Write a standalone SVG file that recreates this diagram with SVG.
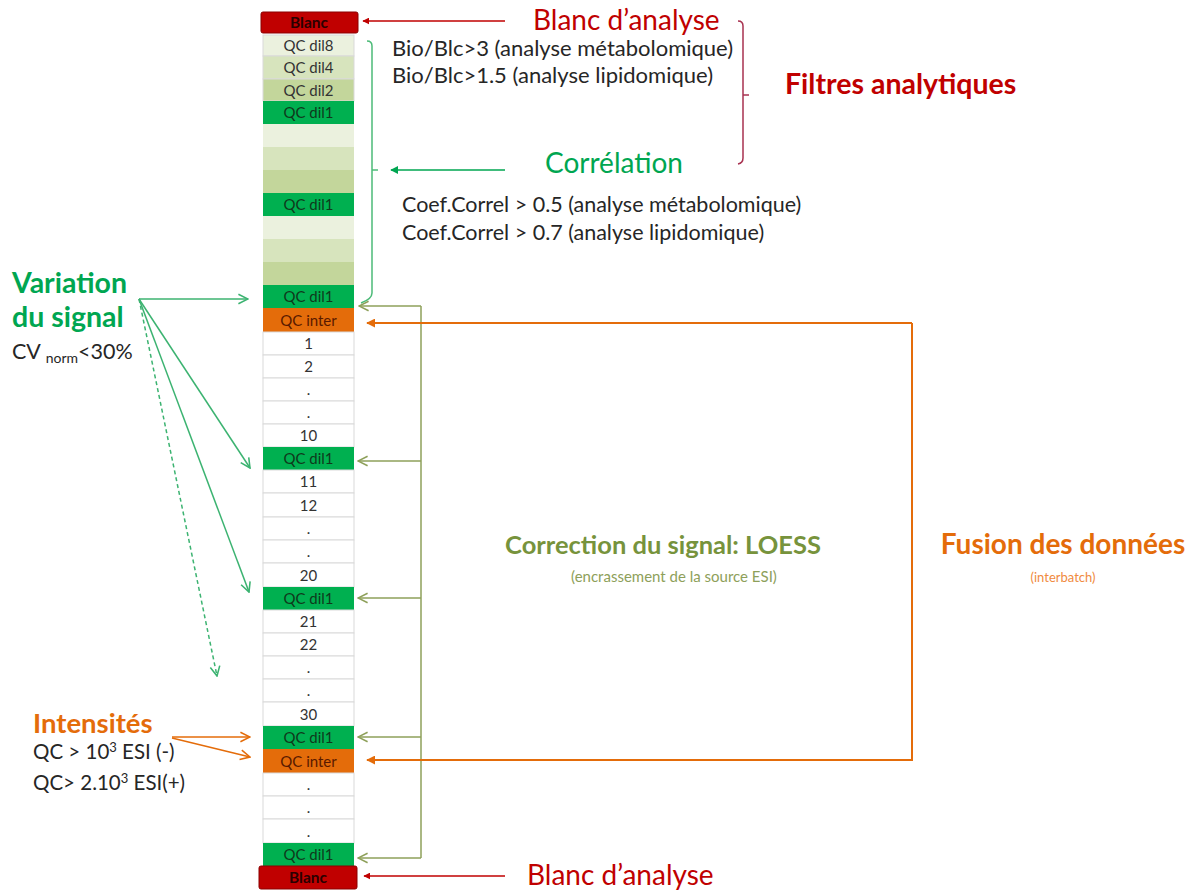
<svg xmlns="http://www.w3.org/2000/svg" width="1194" height="890" viewBox="0 0 1194 890">
<style>
text{font-family:Lato,"Open Sans","Liberation Sans",sans-serif}
.cell{stroke:#d9d9d9;stroke-width:1}
.w{fill:#ffffff}
.l8{fill:#ebf1de}
.l4{fill:#d7e4bd}
.l2{fill:#c3d69b}
.g{fill:#00b050}
.o{fill:#e46c0a}
.blanc{fill:#c00000;stroke:#8b0000;stroke-width:1}
.ct{font-size:15px;fill:#333;text-anchor:middle}
.cg{font-size:15px;fill:#0f3a1c;text-anchor:middle}
.co{font-size:15px;fill:#5a1a00;text-anchor:middle}
.cb{font-size:15.5px;font-weight:bold;fill:#2a0000;text-anchor:middle}
.red{fill:#c00000}
.grn{fill:#00a651}
.olv{fill:#77933c}
.org{fill:#e46c0a}
.blk{fill:#262626}
.lred{stroke:#c00000;stroke-width:1.5;fill:none}
.lgrn{stroke:#3cb371;stroke-width:1.5;fill:none}
.lolv{stroke:#8ea05a;stroke-width:1.5;fill:none}
.lorg{stroke:#e46c0a;stroke-width:2;fill:none}
.lbr{stroke:#4cbb78;stroke-width:1.5;fill:none}
.lrb{stroke:#a83250;stroke-width:1.5;fill:none}
</style>
<defs>
<marker id="mRed" viewBox="0 0 10 10" refX="9" refY="5" markerWidth="7" markerHeight="7" orient="auto" markerUnits="userSpaceOnUse"><path d="M0,0 L10,5 L0,10 z" fill="#c00000"/></marker>
<marker id="mOrg" viewBox="0 0 10 10" refX="9" refY="5" markerWidth="9" markerHeight="9" orient="auto" markerUnits="userSpaceOnUse"><path d="M0,0 L10,5 L0,10 z" fill="#e46c0a"/></marker>
<marker id="mGrnF" viewBox="0 0 10 10" refX="9" refY="5" markerWidth="8" markerHeight="8" orient="auto" markerUnits="userSpaceOnUse"><path d="M0,0 L10,5 L0,10 z" fill="#00a651"/></marker>
<marker id="mGrnO" viewBox="0 0 10 10" refX="9" refY="5" markerWidth="12" markerHeight="12" orient="auto" markerUnits="userSpaceOnUse"><path d="M1,1 L9,5 L1,9" fill="none" stroke="#3cb371" stroke-width="1.3"/></marker>
<marker id="mOlvO" viewBox="0 0 10 10" refX="9" refY="5" markerWidth="12" markerHeight="12" orient="auto" markerUnits="userSpaceOnUse"><path d="M1,1 L9,5 L1,9" fill="none" stroke="#8ea05a" stroke-width="1.3"/></marker>
<marker id="mOrgO" viewBox="0 0 10 10" refX="9" refY="5" markerWidth="12" markerHeight="12" orient="auto" markerUnits="userSpaceOnUse"><path d="M1,1 L9,5 L1,9" fill="none" stroke="#e46c0a" stroke-width="1.3"/></marker>
</defs>
<rect width="1194" height="890" fill="#ffffff"/>

<g id="column">
<g id="blanc-top"><rect class="blanc" x="261" y="12" width="97" height="21" rx="2"/><text class="cb" x="309" y="28">Blanc</text></g>
<g id="r0"><rect class="cell l8" x="263" y="35" width="91" height="21"/><text class="ct" x="308.5" y="51">QC dil8</text></g>
<g id="r1"><rect class="cell l4" x="263" y="56" width="91" height="23"/><text class="ct" x="308.5" y="73">QC dil4</text></g>
<g id="r2"><rect class="cell l2" x="263" y="79" width="91" height="22"/><text class="ct" x="308.5" y="95.5">QC dil2</text></g>
<g id="r3"><rect class="g" x="263" y="101" width="91" height="23"/><text class="cg" x="308.5" y="118">QC dil1</text></g>
<g id="r4"><rect class="l8" x="263" y="124" width="91" height="23"/></g>
<g id="r5"><rect class="l4" x="263" y="147" width="91" height="23"/></g>
<g id="r6"><rect class="l2" x="263" y="170" width="91" height="23"/></g>
<g id="r7"><rect class="g" x="263" y="193" width="91" height="23"/><text class="cg" x="308.5" y="210">QC dil1</text></g>
<g id="r8"><rect class="l8" x="263" y="216" width="91" height="23"/></g>
<g id="r9"><rect class="l4" x="263" y="239" width="91" height="23"/></g>
<g id="r10"><rect class="l2" x="263" y="262" width="91" height="23"/></g>
<g id="r11"><rect class="g" x="263" y="285" width="91" height="23"/><text class="cg" x="308.5" y="302">QC dil1</text></g>
<g id="r12"><rect class="o" x="263" y="308" width="91" height="24"/><text class="co" x="308.5" y="325.5">QC inter</text></g>
<g id="r13"><rect class="cell w" x="263" y="332" width="91" height="23"/><text class="ct" x="308.5" y="349">1</text></g>
<g id="r14"><rect class="cell w" x="263" y="355" width="91" height="23"/><text class="ct" x="308.5" y="372">2</text></g>
<g id="r15"><rect class="cell w" x="263" y="378" width="91" height="23"/><text class="ct" x="308.5" y="395">.</text></g>
<g id="r16"><rect class="cell w" x="263" y="401" width="91" height="23"/><text class="ct" x="308.5" y="418">.</text></g>
<g id="r17"><rect class="cell w" x="263" y="424" width="91" height="23"/><text class="ct" x="308.5" y="441">10</text></g>
<g id="r18"><rect class="g" x="263" y="447" width="91" height="23"/><text class="cg" x="308.5" y="464">QC dil1</text></g>
<g id="r19"><rect class="cell w" x="263" y="470" width="91" height="23"/><text class="ct" x="308.5" y="487">11</text></g>
<g id="r20"><rect class="cell w" x="263" y="493" width="91" height="24"/><text class="ct" x="308.5" y="510.5">12</text></g>
<g id="r21"><rect class="cell w" x="263" y="517" width="91" height="23"/><text class="ct" x="308.5" y="534">.</text></g>
<g id="r22"><rect class="cell w" x="263" y="540" width="91" height="23"/><text class="ct" x="308.5" y="557">.</text></g>
<g id="r23"><rect class="cell w" x="263" y="563" width="91" height="24"/><text class="ct" x="308.5" y="580.5">20</text></g>
<g id="r24"><rect class="g" x="263" y="587" width="91" height="23"/><text class="cg" x="308.5" y="604">QC dil1</text></g>
<g id="r25"><rect class="cell w" x="263" y="610" width="91" height="23"/><text class="ct" x="308.5" y="627">21</text></g>
<g id="r26"><rect class="cell w" x="263" y="633" width="91" height="23"/><text class="ct" x="308.5" y="650">22</text></g>
<g id="r27"><rect class="cell w" x="263" y="656" width="91" height="23"/><text class="ct" x="308.5" y="673">.</text></g>
<g id="r28"><rect class="cell w" x="263" y="679" width="91" height="23"/><text class="ct" x="308.5" y="696">.</text></g>
<g id="r29"><rect class="cell w" x="263" y="702" width="91" height="24"/><text class="ct" x="308.5" y="719.5">30</text></g>
<g id="r30"><rect class="g" x="263" y="726" width="91" height="23"/><text class="cg" x="308.5" y="743">QC dil1</text></g>
<g id="r31"><rect class="o" x="263" y="749" width="91" height="24"/><text class="co" x="308.5" y="766.5">QC inter</text></g>
<g id="r32"><rect class="cell w" x="263" y="773" width="91" height="23"/><text class="ct" x="308.5" y="790">.</text></g>
<g id="r33"><rect class="cell w" x="263" y="796" width="91" height="23"/><text class="ct" x="308.5" y="813">.</text></g>
<g id="r34"><rect class="cell w" x="263" y="819" width="91" height="24"/><text class="ct" x="308.5" y="836.5">.</text></g>
<g id="r35"><rect class="g" x="263" y="843" width="91" height="23"/><text class="cg" x="308.5" y="860">QC dil1</text></g>
<g id="blanc-bottom"><rect class="blanc" x="259" y="866" width="98" height="23" rx="2"/><text class="cb" x="308" y="883">Blanc</text></g>
</g>

<g id="connectors">
<path class="lred" d="M505,21 H363" marker-end="url(#mRed)"/>
<path class="lred" d="M505,876 H364" marker-end="url(#mRed)"/>
<path class="lgrn" d="M505,170 H391" marker-end="url(#mGrnF)" style="stroke:#00a651"/>
<path class="lbr" d="M367,41 Q372,41 372,46 V293 Q372,299 361,303"/>
<path class="lbr" d="M372,170 H378"/>
<path class="lrb" d="M738,21 Q743,21 743,26 V158 Q743,163 738,164"/>
<path class="lrb" d="M743,95 H749"/>
<path class="lolv" d="M421,306 V858"/>
<path class="lolv" d="M421,306 H359" marker-end="url(#mOlvO)"/>
<path class="lolv" d="M421,461 H358" marker-end="url(#mOlvO)"/>
<path class="lolv" d="M421,598 H358" marker-end="url(#mOlvO)"/>
<path class="lolv" d="M421,737 H358" marker-end="url(#mOlvO)"/>
<path class="lolv" d="M421,858 H358" marker-end="url(#mOlvO)"/>
<path class="lorg" d="M912,323 H367" marker-end="url(#mOrg)"/>
<path class="lorg" d="M912,323 V760 H367" marker-end="url(#mOrg)"/>
<path class="lgrn" d="M139,299 H248" marker-end="url(#mGrnO)"/>
<path class="lgrn" d="M139,299 L250,468" marker-end="url(#mGrnO)"/>
<path class="lgrn" d="M139,299 L249,592" marker-end="url(#mGrnO)"/>
<path class="lgrn" d="M139,299 L217,676" stroke-dasharray="4,3" marker-end="url(#mGrnO)"/>
<path class="lorg" style="stroke-width:1.5" d="M172,737 H250" marker-end="url(#mOrgO)"/>
<path class="lorg" style="stroke-width:1.5" d="M172,738 L250,757" marker-end="url(#mOrgO)"/>
</g>

<g id="label-blanc-top"><text class="red" x="533" y="30" font-size="28">Blanc d’analyse</text></g>
<g id="label-bio"><text class="blk" x="392" y="56" font-size="22">Bio/Blc&gt;3  (analyse métabolomique)</text><text class="blk" x="392" y="83" font-size="22">Bio/Blc&gt;1.5 (analyse lipidomique)</text></g>
<g id="label-filtres"><text class="red" x="785" y="94" font-size="28.5" font-weight="bold">Filtres analytiques</text></g>
<g id="label-correlation"><text class="grn" x="545" y="173" font-size="28">Corrélation</text></g>
<g id="label-coef"><text class="blk" x="402" y="212" font-size="21.5">Coef.Correl &gt; 0.5 (analyse métabolomique)</text><text class="blk" x="402" y="240" font-size="21.5">Coef.Correl &gt; 0.7 (analyse lipidomique)</text></g>
<g id="label-variation"><text class="grn" x="12" y="293" font-size="28.5" font-weight="bold">Variation</text><text class="grn" x="12" y="327" font-size="28.5" font-weight="bold">du signal</text><text class="blk" x="12" y="359" font-size="21.5">CV <tspan font-size="14" dy="4">norm</tspan><tspan dy="-4">&lt;30%</tspan></text></g>
<g id="label-loess"><text class="olv" x="663" y="554" font-size="25.5" font-weight="bold" text-anchor="middle">Correction du signal: LOESS</text><text class="olv" x="674" y="582" font-size="15" text-anchor="middle" style="fill:#8ea05a">(encrassement de la source ESI)</text></g>
<g id="label-fusion"><text class="org" x="1063" y="554" font-size="28" font-weight="bold" text-anchor="middle">Fusion des données</text><text class="org" x="1063" y="582" font-size="13" text-anchor="middle" style="fill:#f08a40">(interbatch)</text></g>
<g id="label-intensites"><text class="org" x="33" y="733" font-size="27.5" font-weight="bold">Intensités</text><text class="blk" x="33" y="759" font-size="20.5">QC &gt; 10<tspan font-size="13" dy="-7">3</tspan><tspan dy="7"> ESI (-)</tspan></text><text class="blk" x="33" y="790" font-size="20.5">QC&gt; 2.10<tspan font-size="13" dy="-7">3</tspan><tspan dy="7"> ESI(+)</tspan></text></g>
<g id="label-blanc-bottom"><text class="red" x="527" y="885" font-size="28">Blanc d’analyse</text></g>
</svg>
